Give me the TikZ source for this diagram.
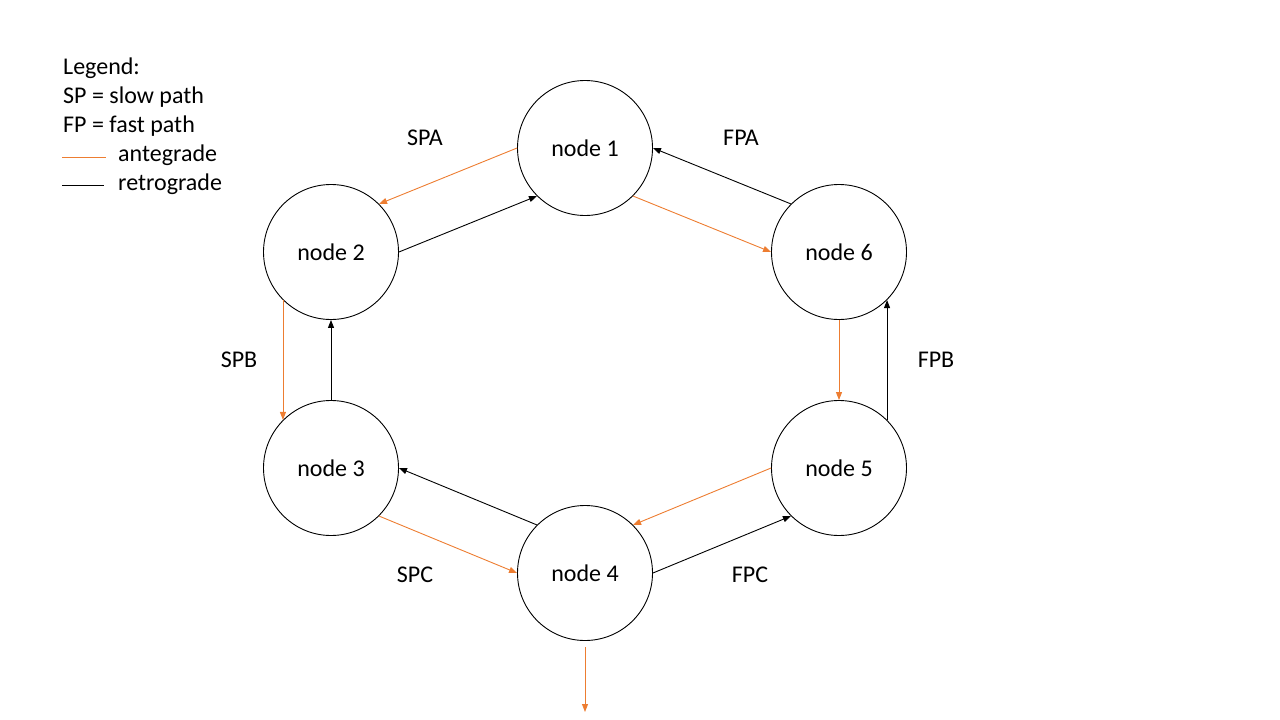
\documentclass[tikz,border=0pt]{standalone}
\usepackage{fontspec}
\setmainfont{Carlito}
\usepackage{xcolor}
\usepackage{tikz}
\usetikzlibrary{arrows.meta, positioning}
\definecolor{ante}{RGB}{237,125,49}

\begin{document}
\begin{tikzpicture}[
        x=1pt, y=-1pt,
        font=\fontsize{24}{29}\selectfont,
        ring/.style={circle, draw, line width=0.9pt, minimum size=135pt, inner sep=0pt},
        tag/.style={inner sep=0pt},
        antegrade/.style={draw=ante, line width=0.9pt, -{Triangle[length=8pt,width=6pt]}},
        retrograde/.style={draw=black, line width=0.9pt, -{Triangle[length=8pt,width=6pt]}}
    ]
    \useasboundingbox (0,0) rectangle (1280,720);
    
    % ring of nodes
    \node[ring] (n1) at (585,148) {node 1};
    \node[ring] (n2) at (331,252) {node 2};
    \node[ring] (n3) at (331,468) {node 3};
    \node[ring] (n4) at (585,573) {node 4};
    \node[ring] (n5) at (839,468) {node 5};
    \node[ring] (n6) at (839,252) {node 6};
    \coordinate (out) at (585,712);
    
    % path labels
    \node[tag] (spa) at (425,138) {SPA};
    \node[tag] (fpa) at (741,138) {FPA};
    \node[tag] (spb) at (239,360) {SPB};
    \node[tag] (fpb) at (936,360) {FPB};
    \node[tag] (spc) at (415,575) {SPC};
    \node[tag] (fpc) at (750,575) {FPC};
    
    \draw[antegrade] (n1.west) -- (n2.45);
    \draw[retrograde] (n2.east) -- (n1.225);
    \draw[antegrade] (n1.315) -- (n6.west);
    \draw[retrograde] (n6.135) -- (n1.east);
    \draw[antegrade] (n2.225) -- (n3.135);
    \draw[retrograde] (n3.north) -- (n2.south);
    \draw[antegrade] (n6.south) -- (n5.north);
    \draw[retrograde] (n5.45) -- (n6.315);
    \draw[antegrade] (n3.315) -- (n4.west);
    \draw[retrograde] (n4.135) -- (n3.east);
    \draw[antegrade] (n5.west) -- (n4.45);
    \draw[retrograde] (n4.east) -- (n5.225);
    \draw[antegrade, shorten <=6pt] (n4.south) -- (out);
    
    % legend
    \node[tag, anchor=west] (lgd) at (63,68) {Legend:};
    \node[tag, anchor=west] (lsp) at (63,97) {SP = slow path};
    \node[tag, anchor=west] (lfp) at (63,126) {FP = fast path};
    \node[tag, anchor=west] (lante) at (118,155) {antegrade};
    \node[tag, anchor=west] (lretro) at (118,184) {retrograde};
    \coordinate (la1) at (62,157);
    \coordinate (la2) at (106,157);
    \coordinate (lr1) at (62,185);
    \coordinate (lr2) at (104,185);
    \draw[draw=ante, line width=0.9pt] (la1) -- (la2);
    \draw[line width=0.9pt] (lr1) -- (lr2);
    
\end{tikzpicture}
\end{document}
